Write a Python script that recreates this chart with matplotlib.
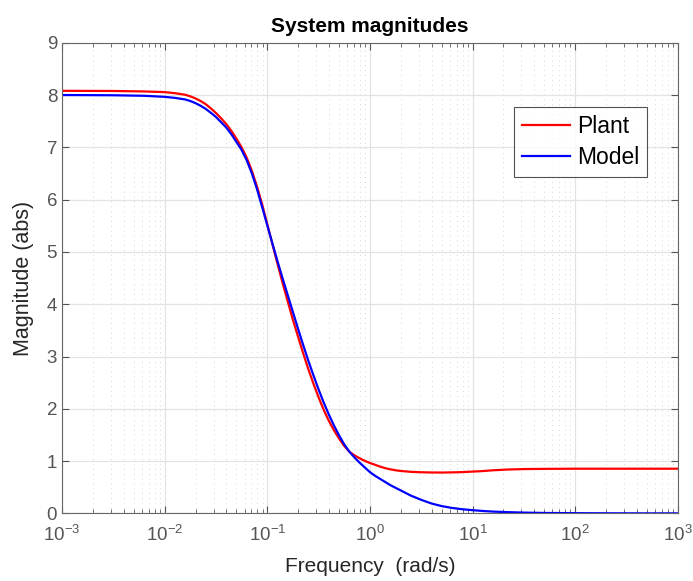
import numpy as np
import matplotlib
matplotlib.use("Agg")
import matplotlib.pyplot as plt
from matplotlib.ticker import LogLocator, NullFormatter

plt.rcParams['font.family'] = ['Liberation Sans', 'DejaVu Sans']

# log10 of frequency (rad/s) at the sampled points
log_freq = [-3.0, -2.5, -2.2, -2.0, -1.9, -1.8, -1.75, -1.7, -1.65, -1.6,
            -1.55, -1.5, -1.45, -1.4, -1.35, -1.3, -1.25, -1.2, -1.15, -1.1,
            -1.05, -1.0, -0.95, -0.9, -0.85, -0.8, -0.75, -0.7, -0.65, -0.6,
            -0.55, -0.5, -0.45, -0.4, -0.35, -0.3, -0.25, -0.2, -0.15, -0.1,
            -0.05, 0.0, 0.05, 0.1, 0.15, 0.2, 0.25, 0.3, 0.4, 0.5,
            0.6, 0.7, 0.8, 0.9, 1.0, 1.1, 1.2, 1.35, 1.5, 1.7,
            2.0, 2.5, 3.0]

plant = [8.08, 8.077, 8.068, 8.055, 8.035, 8.005, 7.975, 7.935, 7.885, 7.825,
         7.745, 7.655, 7.555, 7.445, 7.315, 7.165, 7.00, 6.80, 6.55, 6.25,
         5.91, 5.53, 5.15, 4.77, 4.40, 4.05, 3.70, 3.38, 3.06, 2.76,
         2.48, 2.22, 1.98, 1.77, 1.59, 1.43, 1.29, 1.18, 1.11, 1.055,
         1.005, 0.965, 0.93, 0.895, 0.865, 0.843, 0.825, 0.812, 0.795, 0.787,
         0.783, 0.782, 0.785, 0.79, 0.80, 0.81, 0.825, 0.84, 0.848, 0.852,
         0.855, 0.855, 0.855]

model = [8.00, 7.995, 7.985, 7.965, 7.945, 7.915, 7.885, 7.845, 7.795, 7.735,
         7.66, 7.58, 7.48, 7.38, 7.25, 7.10, 6.95, 6.75, 6.50, 6.20,
         5.86, 5.51, 5.16, 4.82, 4.49, 4.17, 3.85, 3.53, 3.22, 2.92,
         2.64, 2.37, 2.12, 1.89, 1.68, 1.49, 1.32, 1.18, 1.07, 0.97,
         0.88, 0.79, 0.72, 0.66, 0.60, 0.54, 0.49, 0.44, 0.34, 0.26,
         0.19, 0.14, 0.105, 0.08, 0.062, 0.047, 0.035, 0.024, 0.016, 0.009,
         0.005, 0.002, 0.001]

freq = [10 ** v for v in log_freq]

fig = plt.figure(figsize=(6.93, 5.81), dpi=100)
ax = fig.add_axes([0.0895, 0.1163, 0.8885, 0.8102])

ax.semilogx(freq, plant, color='#ff0000', lw=1.6, label='Plant')
ax.semilogx(freq, model, color='#0000ff', lw=1.6, label='Model')

ax.set_xlim(1e-3, 1e3)
ax.set_ylim(0, 9)
ax.set_yticks(range(0, 10))
ax.xaxis.set_major_locator(LogLocator(base=10, numticks=10))
ax.xaxis.set_minor_locator(LogLocator(base=10, subs=np.arange(2, 10), numticks=20))
ax.xaxis.set_minor_formatter(NullFormatter())

ax.grid(True, which='major', color='#e3e3e3', lw=0.9, ls='-')
ax.grid(True, which='minor', axis='x', color='#d6d6d6', lw=0.7, ls=(0, (1, 4)))
ax.set_axisbelow(True)

ax.tick_params(which='both', direction='in', top=True, right=True,
               colors='#555555', labelsize=13.5)
ax.tick_params(which='major', length=5, width=0.8)
ax.tick_params(which='minor', length=3, width=0.6)
ax.tick_params(axis='x', pad=8)
for s in ax.spines.values():
    s.set_color('#666666')
    s.set_linewidth(0.8)

ax.set_title('System magnitudes', fontsize=15, fontweight='bold', pad=8)
ax.set_xlabel('Frequency  (rad/s)', fontsize=15, color='#262626', labelpad=9)
ax.set_ylabel('Magnitude (abs)', fontsize=15.5, color='#262626', labelpad=9)

leg = ax.legend(loc='upper right', bbox_to_anchor=(0.95, 0.863), fontsize=16.5,
                frameon=True, fancybox=False, handlelength=2.1,
                borderpad=0.35, labelspacing=0.35, handletextpad=0.3,
                borderaxespad=0)
leg.get_frame().set_edgecolor('#262626')
leg.get_frame().set_linewidth(0.8)

fig.savefig('out.png', dpi=100)
